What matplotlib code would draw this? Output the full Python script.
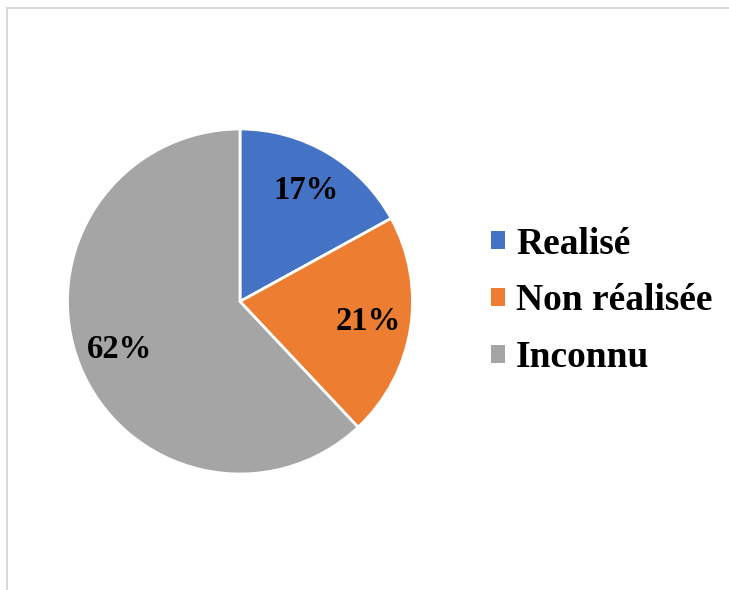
import matplotlib.pyplot as plt
from matplotlib.patches import Patch
from matplotlib.lines import Line2D

# Répartition des statuts
categories = ["Realisé", "Non réalisée", "Inconnu"]
shares = [17, 21, 62]
colors = ["#4472C4", "#ED7D31", "#A5A5A5"]

plt.rcParams['font.family'] = ['Liberation Serif', 'DejaVu Serif']

W, H = 729, 590
fig = plt.figure(figsize=(W / 100, H / 100), dpi=100)

# pie placed by pixel centre and radius
cx, cy, r = 240, 301.5, 172.5
ax = fig.add_axes([(cx - r) / W, (H - cy - r) / H, 2 * r / W, 2 * r / H])
wedges, _, autotexts = ax.pie(
    shares, colors=colors, startangle=90, counterclock=False,
    autopct='%1.0f%%', pctdistance=0.75,
    wedgeprops=dict(edgecolor='white', linewidth=2),
    textprops=dict(fontsize=23.5, fontweight='bold', color='black'),
)
ax.set_xlim(-1, 1)
ax.set_ylim(-1, 1)
ax.set_aspect('equal')

handles = [Patch(facecolor=c, edgecolor='none') for c in colors]
fig.legend(handles, categories, loc='center left',
           bbox_to_anchor=(491 / W, 1 - 301 / H), frameon=False,
           prop=dict(size=27, weight='bold'),
           borderpad=0, borderaxespad=0,
           handlelength=0.37, handleheight=0.37, handletextpad=0.3,
           labelspacing=0.58)

# chart area frame (light grey)
fig.add_artist(Line2D([7 / W, 1], [1 - 8 / H] * 2, color='#D9D9D9', lw=1.5))
fig.add_artist(Line2D([7 / W] * 2, [0, 1 - 8 / H], color='#D9D9D9', lw=1.5))

fig.savefig('out.png', dpi=100, facecolor='white')
